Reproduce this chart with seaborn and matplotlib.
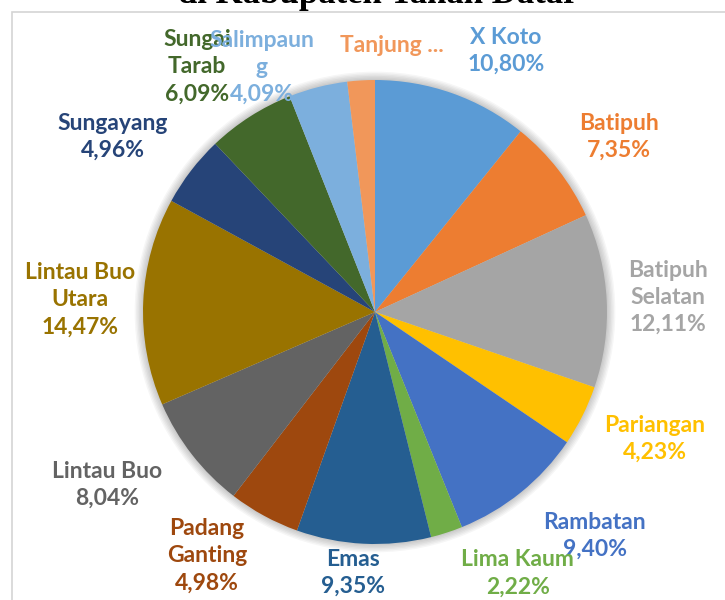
import matplotlib
matplotlib.use("Agg")
import matplotlib.pyplot as plt
import seaborn as sns
import numpy as np
from matplotlib.patches import Rectangle, Circle

# data
kecamatan = ["X Koto", "Batipuh", "Batipuh Selatan", "Pariangan", "Rambatan",
             "Lima Kaum", "Emas", "Padang Ganting", "Lintau Buo",
             "Lintau Buo Utara", "Sungayang", "Sungai Tarab", "Salimpaung",
             "Tanjung Emas"]
persen = [10.80, 7.35, 12.11, 4.23, 9.40, 2.22, 9.35, 4.98, 8.04,
          14.47, 4.96, 6.09, 4.09, 1.91]
label_text = ["X Koto", "Batipuh", "Batipuh\nSelatan", "Pariangan", "Rambatan",
              "Lima Kaum", "Emas", "Padang\nGanting", "Lintau Buo",
              "Lintau Buo\nUtara", "Sungayang", "Sungai\nTarab", "Salimpaun\ng",
              "Tanjung ..."]
show_pct = [True] * 13 + [False]

# excel office palette
warna = ["#5B9BD5", "#ED7D31", "#A5A5A5", "#FFC000", "#4472C4", "#70AD47",
         "#255E91", "#9E480E", "#636363", "#997300", "#264478", "#43682B",
         "#7CAFDD", "#F1975A"]

# label nudges in pixels (right, down) from the default spot on the ring
nudge_px = [(32, 19), (10, 7), (-4, 0), (14, -6), (33, -7), (51, -21),
            (-7, -36), (-26, -17), (-34, -10), (2, 1), (-27, 6), (-18, 5),
            (-40, 43), (35, 30)]

sns.set_theme(style="white")
plt.rcParams['font.family'] = ['Lato', 'DejaVu Sans']

W, H = 725, 600
R = 232.0
cx, cy = 375, 312

fig = plt.figure(figsize=(W / 100, H / 100), dpi=100)
ax = fig.add_axes([0, 0, 1, 1])

# soft shadow behind the pie
for k in range(6):
    ax.add_patch(Circle((0, 0), 1.0 + 0.006 * (k + 1), color="black",
                        alpha=0.035, linewidth=0, zorder=0))

wedges, _ = ax.pie(persen, colors=warna, startangle=90, counterclock=False,
                   radius=1.0, wedgeprops=dict(linewidth=0, zorder=2))

ax.set_xlim(-cx / R, (W - cx) / R)
ax.set_ylim(-(H - cy) / R, cy / R)
ax.set_aspect("equal")
ax.axis("off")

# chart area frame
fig.patches.append(Rectangle((12 / W, -0.01), 1.2, (H - 12) / H + 0.01,
                             transform=fig.transFigure, fill=False,
                             edgecolor="#d4d4d4", linewidth=1.2))

# clipped title at the very top
fig.text(378 / W, 1 - 3 / H, "di Kabupaten Tanah Datar", ha="center",
         va="baseline", fontsize=25, fontweight="bold",
         family="Liberation Serif", color="black")

ring = 1.28
for w, txt, p, ok, col, (nx, ny) in zip(wedges, label_text, persen, show_pct,
                                        warna, nudge_px):
    ang = np.deg2rad((w.theta1 + w.theta2) / 2)
    bx, by = ring * np.cos(ang), ring * np.sin(ang)
    s = txt + ("\n" + f"{p:.2f}%".replace(".", ",") if ok else "")
    ax.annotate(s, xy=(bx, by), xytext=(nx * 0.72, -ny * 0.72),
                textcoords="offset points", ha="center", va="center",
                fontsize=16.5, fontweight="bold", color=col, linespacing=1.36,
                annotation_clip=False, zorder=5)

fig.savefig("out.png", dpi=100)
